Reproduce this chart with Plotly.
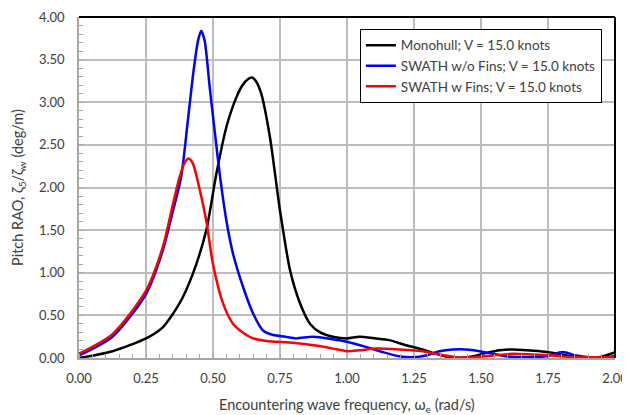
import plotly.graph_objects as go

# Monohull; V = 15.0 knots
mono_x = [0, 0.125, 0.25, 0.3125, 0.375, 0.425, 0.475, 0.5125, 0.55, 0.5875, 0.61, 0.63, 0.645, 0.66, 0.68,
          0.7125, 0.75, 0.7875, 0.825, 0.8625, 0.9, 0.947, 1.0, 1.046, 1.108, 1.158, 1.22, 1.282, 1.32, 1.38,
          1.42, 1.47, 1.52, 1.57, 1.62, 1.67, 1.72, 1.77, 1.82, 1.88, 1.94, 1.985, 2.0]
mono_y = [0.0, 0.08, 0.23, 0.36, 0.64, 0.99, 1.5, 2.16, 2.71, 3.06, 3.20, 3.27, 3.29, 3.25, 3.10,
          2.59, 1.73, 1.03, 0.64, 0.40, 0.30, 0.25, 0.23, 0.25, 0.23, 0.21, 0.15, 0.10, 0.06, 0.01,
          0.0, 0.02, 0.06, 0.09, 0.10, 0.09, 0.08, 0.06, 0.03, 0.01, 0.01, 0.05, 0.07]

# SWATH w/o Fins; V = 15.0 knots
swo_x = [0, 0.125, 0.25, 0.3125, 0.35, 0.381, 0.406, 0.4275, 0.444, 0.456, 0.469, 0.4875, 0.506, 0.525,
         0.55, 0.575, 0.6125, 0.65, 0.6875, 0.725, 0.77, 0.81, 0.872, 0.947, 1.0, 1.07, 1.133, 1.195, 1.245,
         1.295, 1.345, 1.395, 1.444, 1.494, 1.544, 1.593, 1.643, 1.693, 1.743, 1.805, 1.855, 1.904, 1.966, 2.0]
swo_y = [0.03, 0.25, 0.75, 1.26, 1.72, 2.12, 2.78, 3.37, 3.72, 3.84, 3.72, 3.18, 2.67, 2.16,
         1.61, 1.22, 0.83, 0.52, 0.32, 0.27, 0.25, 0.23, 0.25, 0.22, 0.19, 0.13, 0.07, 0.02, 0.01,
         0.03, 0.08, 0.10, 0.10, 0.08, 0.05, 0.02, 0.01, 0.01, 0.02, 0.07, 0.03, 0.01, 0.01, 0.02]

# SWATH w Fins; V = 15.0 knots
sw_x = [0, 0.125, 0.25, 0.3125, 0.35, 0.375, 0.394, 0.409, 0.425, 0.45, 0.475, 0.5, 0.5375, 0.575, 0.625,
        0.65, 0.7, 0.8, 0.897, 0.947, 1.0, 1.046, 1.108, 1.195, 1.282, 1.345, 1.407, 1.47, 1.544, 1.62,
        1.693, 1.767, 1.842, 1.94, 2.0]
sw_y = [0.05, 0.28, 0.79, 1.3, 1.80, 2.12, 2.29, 2.34, 2.28, 1.98, 1.61, 1.1, 0.64, 0.40, 0.27,
        0.23, 0.2, 0.18, 0.14, 0.11, 0.08, 0.09, 0.11, 0.10, 0.08, 0.04, 0.01, 0.01, 0.03, 0.05,
        0.04, 0.03, 0.01, 0.01, 0.01]

names = ["Monohull; V = 15.0 knots", "SWATH w/o Fins; V = 15.0 knots", "SWATH w Fins; V = 15.0 knots"]
colors = ["#000000", "#0000ff", "#ff0000"]

x_ticks = [0, 0.25, 0.5, 0.75, 1.0, 1.25, 1.5, 1.75, 2.0]
y_ticks = [0, 0.5, 1.0, 1.5, 2.0, 2.5, 3.0, 3.5, 4.0]

FONT = "Lato, 'Open Sans', sans-serif"
TXT = "#404040"
GRID = "#bdbdbd"

fig = go.Figure()
for xs, ys, nm, c in zip([mono_x, swo_x, sw_x], [mono_y, swo_y, sw_y], names, colors):
    fig.add_trace(go.Scatter(x=xs, y=ys, name=nm, mode="lines",
                             line=dict(color=c, width=2.5, shape="spline", smoothing=0.7)))

# page body adds an 8px offset; size the figure so it fits the 630x415 window
fig.update_layout(
    width=622, height=407,
    margin=dict(l=71, r=15, t=9, b=57),
    paper_bgcolor="white", plot_bgcolor="white",
    font=dict(family=FONT, size=13, color=TXT),
    legend=dict(x=0.524, y=0.965, xanchor="left", yanchor="top",
                bordercolor="#000000", borderwidth=1, bgcolor="white",
                font=dict(size=13.5, color=TXT), tracegroupgap=0,
                itemwidth=30),
    showlegend=True,
)

fig.update_xaxes(
    range=[0, 2.0], tickvals=x_ticks, ticktext=[f"{v:.2f}" for v in x_ticks],
    showgrid=True, gridcolor=GRID, gridwidth=1.5,
    showline=True, linecolor="#a6a6a6", linewidth=1.5, mirror=False,
    ticks="", ticklabelstandoff=8, zeroline=False, automargin=False,
    minor=dict(dtick=0.05, ticks="inside", ticklen=4, tickcolor="#a6a6a6", showgrid=False),
)
fig.update_yaxes(
    range=[0, 4.0], tickvals=y_ticks, ticktext=[f"{v:.2f}" for v in y_ticks],
    showgrid=True, gridcolor=GRID, gridwidth=1.5,
    showline=True, linecolor="#a6a6a6", linewidth=1.5, mirror=False,
    ticks="", ticklabelstandoff=10, zeroline=False, automargin=False,
    minor=dict(dtick=0.1, ticks="inside", ticklen=4, tickcolor="#a6a6a6", showgrid=False),
)

# axis titles
fig.add_annotation(text="Encountering wave frequency, ω<sub>e</sub> (rad/s)", xref="paper", yref="paper",
                   x=0.5, y=-0.138, xanchor="center", yanchor="middle", showarrow=False,
                   font=dict(size=14.5, color=TXT))
fig.add_annotation(text="Pitch RAO, ζ<sub>5</sub>/ζ<sub>w</sub> (deg/m)", xref="paper", yref="paper",
                   x=-0.113, y=0.5, xanchor="center", yanchor="middle", showarrow=False, textangle=-90,
                   font=dict(size=14.5, color=TXT))

# black top and right borders
fig.add_shape(type="line", xref="paper", yref="paper", x0=0, x1=1, y0=1, y1=1,
              line=dict(color="#000000", width=2))
fig.add_shape(type="line", xref="paper", yref="paper", x0=1, x1=1, y0=0, y1=1,
              line=dict(color="#000000", width=2))

fig.write_html("out.html")
